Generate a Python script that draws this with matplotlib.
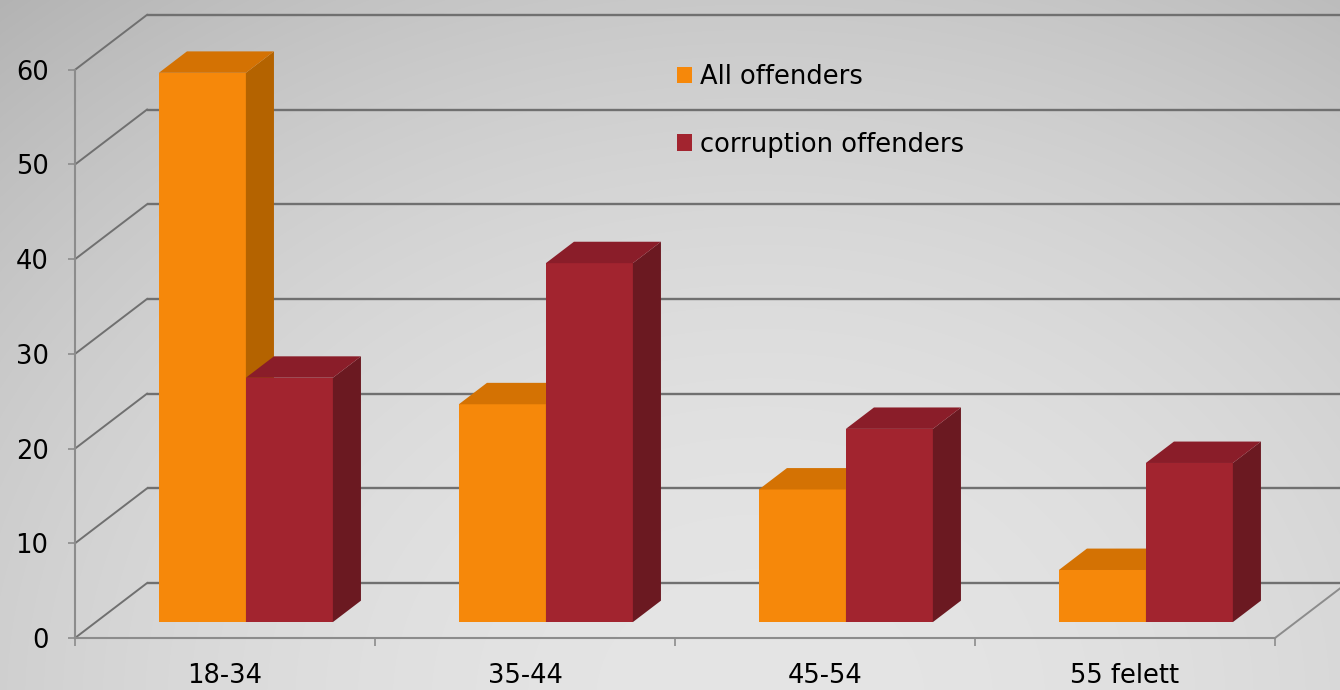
import numpy as np
import matplotlib
matplotlib.use('Agg')
import matplotlib.pyplot as plt
from matplotlib.patches import Polygon

# ---------------- data ----------------
categories = ['18-34', '35-44', '45-54', '55 felett']
all_offenders = [58, 23, 14, 5.5]
corruption_offenders = [25.8, 37.9, 20.4, 16.8]
series_names = ['All offenders', 'corruption offenders']
y_ticks = [0, 10, 20, 30, 40, 50, 60]

# ---------------- style / projection ----------------
W, H = 1340, 690
XLIM = (-0.75, 3.7167)
YLIM = (-5.49, 67.37)
DX, DY = 0.24, 5.8          # full depth offset of the back wall (data units)
F0, F1 = 0.29, 0.68         # depth range occupied by the bars
BW = 0.29                   # bar width
GRID = '#707070'
AXC = '#8c8c8c'
faces = {
    0: dict(front='#F6880A', side='#B46300', top='#D47203'),
    1: dict(front='#A2242F', side='#6B1921', top='#8A1D29'),
}

fig = plt.figure(figsize=(W / 100, H / 100), dpi=100)
ax = fig.add_axes([0, 0, 1, 1])
ax.set_xlim(*XLIM)
ax.set_ylim(*YLIM)

# background gradient
yy, xx = np.mgrid[0:H, 0:W]
r2 = ((xx - 760) / 1000.0) ** 2 + ((yy - 700) / 800.0) ** 2
g = np.clip(229 - 37 * r2, 0, 255) / 255.0
bg = np.dstack([g, g, g])
ax.imshow(bg, extent=[XLIM[0], XLIM[1], YLIM[0], YLIM[1]], aspect='auto',
          zorder=0, origin='upper', interpolation='bilinear')

# back wall and side wall grid lines
for v in y_ticks:
    ax.plot([-0.5 + DX, XLIM[1] + 0.1], [v + DY, v + DY], color=GRID, lw=1.7,
            zorder=1, solid_capstyle='butt')
    ax.plot([-0.5, -0.5 + DX], [v, v + DY], color=GRID, lw=1.4, zorder=1)
# floor right edge
ax.plot([3.5, 3.5 + DX], [0, DY], color=AXC, lw=1.4, zorder=1)

# bars
x = np.arange(len(categories))
containers = []
for s, vals in enumerate([all_offenders, corruption_offenders]):
    left = x - BW + s * BW + F0 * DX
    bc = ax.bar(left, vals, width=BW, bottom=F0 * DY, align='edge',
                color=faces[s]['front'], edgecolor='none', zorder=3 + s)
    containers.append(bc)
    ddx = (F1 - F0) * DX
    ddy = (F1 - F0) * DY
    for xl, v in zip(left, vals):
        xr = xl + BW
        b = F0 * DY
        side = Polygon([(xr, b), (xr + ddx, b + ddy), (xr + ddx, b + ddy + v), (xr, b + v)],
                       closed=True, facecolor=faces[s]['side'], edgecolor='none', zorder=3 + s)
        top = Polygon([(xl, b + v), (xl + ddx, b + ddy + v), (xr + ddx, b + ddy + v), (xr, b + v)],
                      closed=True, facecolor=faces[s]['top'], edgecolor='none', zorder=3 + s)
        ax.add_patch(side)
        ax.add_patch(top)

# axes / spines
for sp in ['top', 'right']:
    ax.spines[sp].set_visible(False)
ax.spines['left'].set_position(('data', -0.5))
ax.spines['left'].set_bounds(0, 60)
ax.spines['bottom'].set_position(('data', 0))
ax.spines['bottom'].set_bounds(-0.5, 3.5)
for sp in ['left', 'bottom']:
    ax.spines[sp].set_color(AXC)
    ax.spines[sp].set_linewidth(1.5)
    ax.spines[sp].set_zorder(2)

ax.set_yticks(y_ticks)
ax.set_yticklabels([str(t) for t in y_ticks])
ax.tick_params(axis='y', direction='out', length=5, width=1.2, color=AXC,
               labelsize=18.5, pad=14, labelcolor='black')
ax.set_xticks(x)
ax.set_xticklabels(categories)
ax.set_xticks(np.arange(-0.5, 3.6, 1.0), minor=True)
ax.tick_params(axis='x', which='major', length=0, labelsize=18.5, pad=18,
               labelcolor='black')
ax.tick_params(axis='x', which='minor', direction='out', length=6, width=1.2,
               color=AXC)

# legend
ax.legend(handles=containers, labels=series_names, loc='upper left',
          bbox_to_anchor=(677 / W, 1 - 64 / H), frameon=False, fontsize=18.5,
          handlelength=0.6, handleheight=0.6, handletextpad=0.3,
          labelspacing=1.62, borderpad=0, borderaxespad=0)

fig.savefig('out.png', dpi=100)
